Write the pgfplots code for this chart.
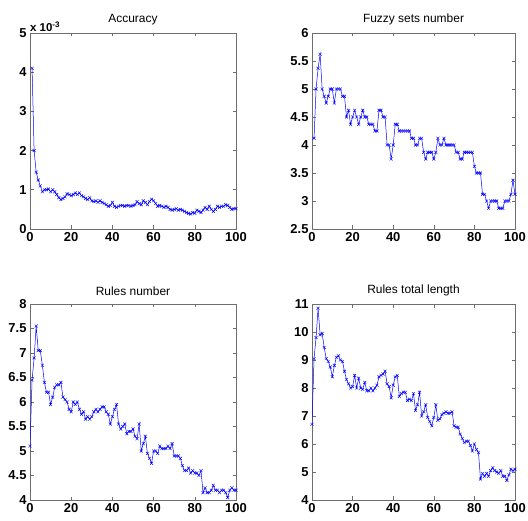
\documentclass[border=0pt]{standalone}
\usepackage{pgfplots}
\pgfplotsset{compat=1.18}
\usepackage{fontspec}
\setmainfont{Liberation Sans}
\definecolor{axgray}{RGB}{110,110,110}
\pgfplotsset{
  mat/.style={
    scale only axis, width=206bp, height=196bp,
    anchor=south west,
    axis line style={axgray, line width=0.8bp},
    tick style={axgray, line width=0.6bp},
    major tick length=3.5bp,
    tick align=inside,
    xtick pos=both, ytick pos=both,
    xmin=0, xmax=100, xtick={0,20,...,100},
    ticklabel style={font=\fontsize{13}{13}\selectfont\bfseries, text=black},
    /pgf/number format/assume math mode=true,
    title style={font=\fontsize{12}{12}\selectfont, yshift=-1bp},
  },
  ser/.style={color=blue, line width=0.5bp, mark=x, mark size=2.1bp, mark options={solid, line width=0.45bp}},
}
\begin{document}
\begin{tikzpicture}
\useasboundingbox (0bp,0bp) rectangle (528bp,521bp);
% Accuracy
\begin{axis}[mat, at={(30bp,292bp)}, title={Accuracy},
  ymin=0, ymax=0.005, ytick={0,0.001,...,0.005},
  scaled y ticks=base 10:3,
  ytick scale label code/.code={\fontsize{11.5}{11.5}\selectfont x 10\textsuperscript{#1}},
  every y tick scale label/.style={at={(rel axis cs:0,1)}, anchor=south west, inner sep=1bp, xshift=-1bp}]
\addplot[ser] coordinates {
(1,4.1e-3)(2,2.0e-3)(3,1.45e-3)(4,1.25e-3)(5,1.1e-3)(6,0.95e-3)(7,1.0e-3)(8,1.0e-3)(9,1.02e-3)(10,0.95e-3)
(11,1.0e-3)(12,0.95e-3)(13,0.88e-3)(14,0.8e-3)(15,0.75e-3)(16,0.78e-3)(17,0.82e-3)(18,0.9e-3)(19,0.88e-3)(20,0.85e-3)
(21,0.88e-3)(22,0.92e-3)(23,0.88e-3)(24,0.92e-3)(25,0.85e-3)(26,0.82e-3)(27,0.78e-3)(28,0.75e-3)(29,0.8e-3)(30,0.72e-3)
(31,0.7e-3)(32,0.72e-3)(33,0.68e-3)(34,0.72e-3)(35,0.68e-3)(36,0.65e-3)(37,0.62e-3)(38,0.58e-3)(39,0.6e-3)(40,0.68e-3)
(41,0.58e-3)(42,0.55e-3)(43,0.58e-3)(44,0.6e-3)(45,0.6e-3)(46,0.58e-3)(47,0.6e-3)(48,0.6e-3)(49,0.58e-3)(50,0.6e-3)
(51,0.62e-3)(52,0.7e-3)(53,0.65e-3)(54,0.62e-3)(55,0.72e-3)(56,0.68e-3)(57,0.62e-3)(58,0.7e-3)(59,0.76e-3)(60,0.72e-3)
(61,0.65e-3)(62,0.58e-3)(63,0.6e-3)(64,0.58e-3)(65,0.55e-3)(66,0.58e-3)(67,0.55e-3)(68,0.5e-3)(69,0.48e-3)(70,0.5e-3)
(71,0.52e-3)(72,0.48e-3)(73,0.5e-3)(74,0.48e-3)(75,0.45e-3)(76,0.42e-3)(77,0.4e-3)(78,0.38e-3)(79,0.42e-3)(80,0.4e-3)
(81,0.48e-3)(82,0.45e-3)(83,0.42e-3)(84,0.48e-3)(85,0.55e-3)(86,0.5e-3)(87,0.58e-3)(88,0.5e-3)(89,0.45e-3)(90,0.5e-3)
(91,0.58e-3)(92,0.55e-3)(93,0.58e-3)(94,0.58e-3)(95,0.62e-3)(96,0.6e-3)(97,0.55e-3)(98,0.5e-3)(99,0.52e-3)(100,0.52e-3)
};
\end{axis}
% Fuzzy sets number
\begin{axis}[mat, width=203bp, at={(312bp,292bp)}, title={Fuzzy sets number},
  ymin=2.5, ymax=6, ytick={2.5,3,...,6}]
\addplot[ser] coordinates {
(1,4.12)(2,5.0)(3,5.37)(4,5.62)(5,5.0)(6,4.87)(7,4.75)(8,4.87)(9,5.0)(10,5.0)
(11,4.75)(12,5.0)(13,5.0)(14,5.0)(15,4.87)(16,4.87)(17,4.5)(18,4.62)(19,4.37)(20,4.5)
(21,4.62)(22,4.5)(23,4.37)(24,4.5)(25,4.62)(26,4.5)(27,4.5)(28,4.37)(29,4.37)(30,4.37)
(31,4.25)(32,4.25)(33,4.62)(34,4.62)(35,4.5)(36,4.5)(37,4.0)(38,4.0)(39,3.75)(40,4.0)
(41,4.37)(42,4.37)(43,4.25)(44,4.25)(45,4.25)(46,4.25)(47,4.25)(48,4.25)(49,4.12)(50,4.12)
(51,4.0)(52,4.0)(53,4.12)(54,4.12)(55,3.87)(56,3.75)(57,3.87)(58,3.87)(59,3.87)(60,3.75)
(61,3.87)(62,4.12)(63,4.0)(64,4.0)(65,4.12)(66,4.0)(67,4.0)(68,4.0)(69,4.0)(70,4.0)
(71,3.87)(72,3.87)(73,3.75)(74,3.75)(75,3.87)(76,3.87)(77,3.87)(78,3.87)(79,3.87)(80,3.62)
(81,3.5)(82,3.5)(83,3.5)(84,3.12)(85,3.12)(86,3.0)(87,2.87)(88,3.0)(89,3.0)(90,3.0)
(91,3.0)(92,2.87)(93,2.87)(94,2.87)(95,3.0)(96,3.0)(97,3.0)(98,3.12)(99,3.37)(100,3.12)
};
\end{axis}
% Rules number
\begin{axis}[mat, at={(30bp,21bp)}, title={Rules number},
  ymin=4, ymax=8, ytick={4,4.5,...,8}]
\addplot[ser] coordinates {
(0,5.1)(1,6.45)(2,6.9)(3,7.55)(4,7.05)(5,7.05)(6,6.75)(7,6.4)(8,6.2)(9,6.2)(10,5.95)
(11,6.1)(12,6.3)(13,6.35)(14,6.35)(15,6.4)(16,6.1)(17,6.05)(18,6.0)(19,5.85)(20,5.8)
(21,6.0)(22,5.95)(23,6.0)(24,5.85)(25,5.75)(26,5.8)(27,5.65)(28,5.7)(29,5.65)(30,5.7)
(31,5.8)(32,5.85)(33,5.8)(34,5.85)(35,5.9)(36,5.9)(37,5.8)(38,5.75)(39,5.55)(40,5.7)
(41,5.85)(42,5.95)(43,5.55)(44,5.45)(45,5.5)(46,5.55)(47,5.35)(48,5.4)(49,5.4)(50,5.45)
(51,5.3)(52,5.25)(53,5.55)(54,5.0)(55,5.15)(56,5.3)(57,4.95)(58,4.85)(59,4.75)(60,5.0)
(61,5.0)(62,4.95)(63,5.1)(64,5.05)(65,5.05)(66,5.05)(67,5.1)(68,5.05)(69,5.15)(70,4.9)
(71,4.9)(72,4.9)(73,4.85)(74,4.7)(75,4.6)(76,4.6)(77,4.65)(78,4.55)(79,4.6)(80,4.55)
(81,4.55)(82,4.5)(83,4.6)(84,4.15)(85,4.25)(86,4.15)(87,4.15)(88,4.2)(89,4.3)(90,4.2)
(91,4.2)(92,4.15)(93,4.2)(94,4.2)(95,4.15)(96,4.05)(97,4.2)(98,4.25)(99,4.2)(100,4.2)
};
\end{axis}
% Rules total length
\begin{axis}[mat, width=203bp, at={(312bp,21bp)}, title={Rules total length},
  ymin=4, ymax=11, ytick={4,5,...,11}]
\addplot[ser] coordinates {
(0,6.7)(1,9.05)(2,9.8)(3,10.85)(4,9.9)(5,9.95)(6,9.45)(7,9.05)(8,8.95)(9,8.75)(10,8.4)
(11,8.8)(12,9.1)(13,9.15)(14,9.0)(15,8.95)(16,8.6)(17,8.3)(18,8.15)(19,8.0)(20,8.05)
(21,8.45)(22,8.0)(23,8.35)(24,8.0)(25,7.95)(26,8.2)(27,7.9)(28,7.9)(29,8.0)(30,7.9)
(31,8.0)(32,8.1)(33,8.4)(34,8.45)(35,8.5)(36,8.6)(37,8.15)(38,8.05)(39,7.65)(40,8.1)
(41,8.4)(42,8.45)(43,7.7)(44,7.8)(45,7.85)(46,7.85)(47,7.55)(48,7.6)(49,7.55)(50,7.8)
(51,7.2)(52,7.4)(53,7.85)(54,7.0)(55,7.15)(56,7.4)(57,6.95)(58,6.8)(59,6.65)(60,6.95)
(61,7.4)(62,6.85)(63,6.9)(64,7.05)(65,7.1)(66,7.15)(67,7.1)(68,7.1)(69,7.15)(70,6.65)
(71,6.6)(72,6.6)(73,6.35)(74,6.2)(75,6.05)(76,6.1)(77,6.1)(78,5.95)(79,5.75)(80,6.0)
(81,5.8)(82,5.7)(83,4.75)(84,4.95)(85,4.85)(86,4.95)(87,4.85)(88,5.05)(89,5.15)(90,5.05)
(91,5.0)(92,4.95)(93,5.05)(94,4.85)(95,4.85)(96,4.7)(97,4.9)(98,5.1)(99,5.05)(100,5.1)
};
\end{axis}
\end{tikzpicture}
\end{document}
